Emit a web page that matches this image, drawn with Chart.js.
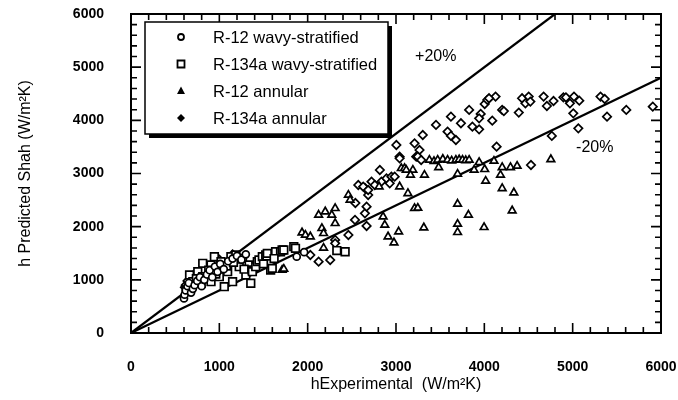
<!DOCTYPE html>
<html>
<head>
<meta charset="utf-8">
<script src="https://cdn.jsdelivr.net/npm/chart.js@4/dist/chart.umd.min.js"></script>
<style>
  html, body { margin: 0; background: #fff; }
</style>
</head>
<body>
<canvas id="shahChart" width="678" height="400"></canvas>
<script>
// tick values
const xTicks = [0, 1000, 2000, 3000, 4000, 5000, 6000];
const yTicks = [0, 1000, 2000, 3000, 4000, 5000, 6000];

// +/-20% bounds
const plus20 = [[0, 0], [4800, 6000]];
const minus20 = [[0, 0], [6000, 4800]];

// R-12 wavy-stratified (x = experimental, y = predicted)
const r12Wavy = [[600,650],[607,720],[620,800],[640,880],[655,940],[680,760],[700,830],[720,900],[750,980],
  [780,1050],[800,880],[830,1000],[860,1100],[890,1180],[920,1050],[950,1250],[980,1150],[1010,1300],
  [1050,1200],[1100,1350],[1150,1400],[1200,1450],[1250,1380],[1300,1480],[1876,1435],[1960,1520]];

// R-134a wavy-stratified
const r134aWavy = [[625,809],[663,1091],[700,965],[756,1153],[794,935],[812,1311],[812,1059],[906,1279],
  [906,965],[944,1435],[981,1222],[1000,1059],[1019,1341],[1056,871],[1094,1153],[1131,1435],[1150,965],
  [1187,1467],[1225,1247],[1262,1405],[1300,1091],[1337,1279],[1356,935],[1371,1185],[1374,1153],[1412,1247],
  [1430,1341],[1449,1373],[1487,1435],[1525,1467],[1539,1448],[1543,1498],[1581,1185],[1599,1216],[1637,1529],
  [1693,1529],[1711,1561],[1730,1561],[1843,1624],[1862,1593],[2330,1550],[2424,1529],[880,1180],[1080,1260],
  [1160,1330],[740,1020],[960,1110],[1280,1200],[1500,1300],[1620,1400]];

// R-12 annular
const r12Annular = [[1711,1185],[1730,1204],[1936,1888],[1974,1843],[2030,1812],[2124,2220],[2199,2282],
  [2273,2220],[2311,2345],[2161,1969],[2180,1875],[2311,2063],[2180,1599],[2461,2596],[2480,2502],[2809,2752],
  [2854,2188],[2873,2032],[2910,1812],[2977,1699],[3030,1905],[3041,2752],[3135,2627],[3210,2345],[3060,3098],
  [3097,3098],[3116,3066],[3191,3066],[3164,2972],[3322,2972],[3315,1981],[3247,2351],[3378,3254],[3430,3230],
  [3472,3254],[3530,3270],[3584,3254],[3630,3240],[3678,3254],[3715,3260],[3753,3254],[3790,3245],[3828,3254],
  [3483,3116],[3697,2991],[3884,3066],[3941,3211],[4004,3079],[4109,3235],[4202,3116],[4296,3116],[4371,3141],
  [4183,2972],[4015,2859],[4202,2721],[4334,2639],[4315,2301],[4753,3266],[3697,2427],[3820,2220],[3697,2050],
  [3697,1894],[3997,1988]];

// R-134a annular
const r134aAnnular = [[610,860],[620,900],[640,980],[700,1080],[1000,1380],[1150,1480],[2030,1467],[2124,1341],
  [2255,1373],[2311,1750],[2311,1687],[2461,1843],[2536,2126],[2540,2445],[2648,2251],[2667,2013],[2667,2376],
  [2573,2784],[2648,2727],[2685,2596],[2723,2846],[2629,2752],[2685,2690],[2760,2784],[2835,2846],[2892,2910],
  [2948,2940],[2985,2940],[2929,2815],[2817,3066],[3004,3536],[3041,3317],[3210,3567],[3229,3317],[3266,3442],
  [3247,3317],[3285,3254],[3041,3286],[3303,3724],[3453,3913],[3584,3787],[3622,3706],[3678,3630],[3622,4069],
  [3735,3945],[3828,4195],[3865,3881],[3941,3831],[3959,4120],[3941,4038],[4004,4307],[4034,4383],[4127,4446],
  [4053,4415],[4090,3994],[4202,4195],[4221,4175],[4390,4145],[4427,4415],[4465,4320],[4502,4446],[4521,4352],
  [4671,4446],[4708,4270],[4783,4364],[4895,4433],[4924,4433],[4969,4320],[5015,4446],[5075,4370],[5007,4132],
  [5315,4446],[5363,4401],[5389,4069],[5607,4195],[5907,4257],[5064,3850],[4764,3706],[4139,3505],[4528,3160]];

const toPts = arr => arr.map(([x, y]) => ({ x, y }));
const FONT = "'Liberation Sans', Arial, sans-serif";

// frame + inward ticks on all four sides
const framePlugin = {
  id: 'frame',
  afterDraw(chart) {
    const { ctx, chartArea: a, scales: { x, y } } = chart;
    ctx.save();
    ctx.strokeStyle = '#000';
    ctx.lineWidth = 2;
    ctx.strokeRect(a.left, a.top, a.right - a.left, a.bottom - a.top);
    ctx.lineWidth = 1.6;
    for (let v = 0; v <= 6000; v += 200) {
      const len = v % 1000 === 0 ? 10 : 6;
      const px = x.getPixelForValue(v), py = y.getPixelForValue(v);
      ctx.beginPath();
      ctx.moveTo(px, a.bottom); ctx.lineTo(px, a.bottom - len);
      ctx.moveTo(px, a.top); ctx.lineTo(px, a.top + len);
      ctx.moveTo(a.left, py); ctx.lineTo(a.left + len, py);
      ctx.moveTo(a.right, py); ctx.lineTo(a.right - len, py);
      ctx.stroke();
    }
    // bound labels
    ctx.fillStyle = '#000';
    ctx.font = '16px ' + FONT;
    ctx.textAlign = 'center';
    ctx.textBaseline = 'middle';
    ctx.fillText('+20%', x.getPixelForValue(3450), y.getPixelForValue(5190));
    ctx.fillText('-20%', x.getPixelForValue(5250), y.getPixelForValue(3480));
    ctx.restore();
  }
};

// boxed legend with drop shadow in upper left of plot
const legendPlugin = {
  id: 'boxLegend',
  afterDraw(chart) {
    const { ctx, chartArea: a } = chart;
    const left = a.left + 14, top = a.top + 8, w = 243, h = 112;
    ctx.save();
    ctx.fillStyle = '#000';
    ctx.fillRect(left + 4, top + 4, w, h);
    ctx.fillStyle = '#fff';
    ctx.fillRect(left, top, w, h);
    ctx.strokeStyle = '#000';
    ctx.lineWidth = 1.5;
    ctx.strokeRect(left, top, w, h);
    const items = chart.data.datasets.filter(d => d.legendRow !== undefined);
    ctx.font = '16.5px ' + FONT;
    ctx.textBaseline = 'middle';
    items.forEach(d => {
      const cy = top + 15 + d.legendRow * 27;
      const cx = left + 36;
      ctx.lineWidth = 1.8;
      ctx.strokeStyle = '#000';
      ctx.fillStyle = '#000';
      ctx.beginPath();
      if (d.pointStyle === 'circle') {
        ctx.arc(cx, cy, 3, 0, Math.PI * 2); ctx.stroke();
      } else if (d.pointStyle === 'rect') {
        ctx.rect(cx - 3.5, cy - 3.5, 7, 7); ctx.stroke();
      } else if (d.pointStyle === 'triangle') {
        ctx.moveTo(cx, cy - 4.5); ctx.lineTo(cx + 4, cy + 3); ctx.lineTo(cx - 4, cy + 3); ctx.closePath(); ctx.fill();
      } else {
        ctx.moveTo(cx, cy - 4); ctx.lineTo(cx + 4, cy); ctx.lineTo(cx, cy + 4); ctx.lineTo(cx - 4, cy); ctx.closePath(); ctx.fill();
      }
      ctx.fillStyle = '#000';
      ctx.fillText(d.label, left + 68, cy + 1);
    });
    ctx.restore();
  }
};

const markerBase = { borderColor: '#000', backgroundColor: '#fff', borderWidth: 1.7, pointHoverRadius: 4 };

new Chart(document.getElementById('shahChart'), {
  type: 'scatter',
  data: {
    datasets: [
      { ...markerBase, label: 'R-12 wavy-stratified', legendRow: 0, data: toPts(r12Wavy), pointStyle: 'circle', pointRadius: 3.5 },
      { ...markerBase, label: 'R-134a wavy-stratified', legendRow: 1, data: toPts(r134aWavy), pointStyle: 'rect', pointRadius: 5.4 },
      { ...markerBase, label: 'R-12 annular', legendRow: 2, data: toPts(r12Annular), pointStyle: 'triangle', pointRadius: 4.4 },
      { ...markerBase, label: 'R-134a annular', legendRow: 3, data: toPts(r134aAnnular), pointStyle: 'rectRot', pointRadius: 4.2 },
      { type: 'line', label: '+20%', data: toPts(plus20), borderColor: '#000', borderWidth: 2.2, pointRadius: 0, fill: false },
      { type: 'line', label: '-20%', data: toPts(minus20), borderColor: '#000', borderWidth: 2.2, pointRadius: 0, fill: false }
    ]
  },
  options: {
    responsive: false,
    animation: false,
    devicePixelRatio: 1,
    layout: { padding: { top: 14, right: 17, left: 0, bottom: 0 } },
    plugins: { legend: { display: false }, tooltip: { enabled: false } },
    scales: {
      x: {
        type: 'linear', min: 0, max: 6000,
        afterBuildTicks: s => { s.ticks = xTicks.map(v => ({ value: v })); },
        afterFit: s => { s.height = 67; s.paddingLeft = 0; s.paddingRight = 0; },
        grid: { display: false }, border: { display: false },
        ticks: { color: '#000', padding: 18, maxRotation: 0, callback: v => String(v), font: { family: FONT, size: 14, weight: 'bold' } },
        title: { display: true, text: 'hExperimental  (W/m²K)', color: '#000', padding: { top: 0, bottom: 6 }, font: { family: FONT, size: 16 } }
      },
      y: {
        type: 'linear', min: 0, max: 6000,
        afterBuildTicks: s => { s.ticks = yTicks.map(v => ({ value: v })); },
        afterFit: s => { s.width = 131; s.paddingTop = 0; s.paddingBottom = 0; },
        grid: { display: false }, border: { display: false },
        ticks: { color: '#000', padding: 19, callback: v => String(v), font: { family: FONT, size: 14, weight: 'bold' } },
        title: { display: true, text: 'h Predicted Shah (W/m²K)', color: '#000', padding: { bottom: 0, top: 16 }, font: { family: FONT, size: 16 } }
      }
    }
  },
  plugins: [framePlugin, legendPlugin]
});
</script>
</body>
</html>
